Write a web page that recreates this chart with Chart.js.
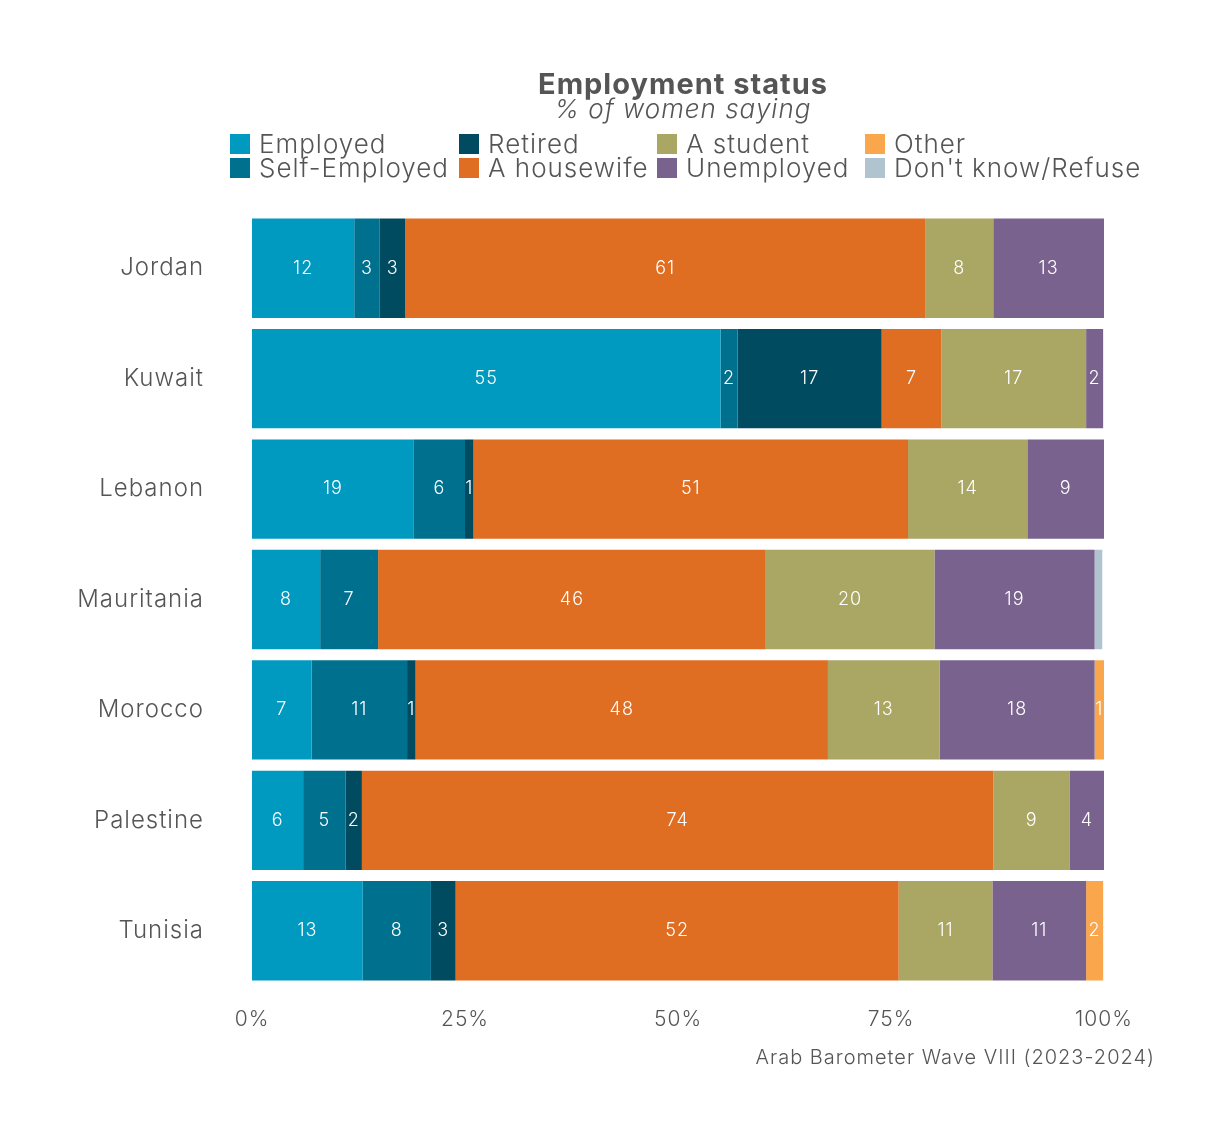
<!DOCTYPE html>
<html>
<head>
<meta charset="utf-8">
<script src="https://cdn.jsdelivr.net/npm/chart.js@4"></script>
<style>
  html, body { margin: 0; padding: 0; background: #fff; }
  #wrap { width: 1230px; height: 1135px; }
</style>
</head>
<body>
<div id="wrap"><canvas id="empChart" width="1230" height="1135"></canvas></div>
<script>
/* global Chart */
const FONT = 'Inter, "DejaVu Sans", sans-serif';
const GREY = '#555555';

const countries = ['Jordan', 'Kuwait', 'Lebanon', 'Mauritania', 'Morocco', 'Palestine', 'Tunisia'];

const employed = [12, 55, 19, 8, 7, 6, 13];
const selfEmployed = [3, 2, 6, 6.8, 11.2, 5, 8];
const retired = [3, 16.9, 1, 0, 1, 1.9, 2.9];
const housewife = [61, 7, 51, 45.5, 48.4, 74.1, 52];
const student = [8, 17, 14, 19.8, 13.1, 9, 11];
const unemployed = [13, 2, 9, 18.8, 18.2, 4, 11];
const other = [0, 0, 0, 0, 1.1, 0, 2];
const dontKnow = [0, 0, 0, 0.9, 0, 0, 0];

const xTicks = [0, 25, 50, 75, 100];
const caption = 'Arab Barometer Wave VIII (2023-2024)';

const series = [
  { label: 'Employed', data: employed, color: '#009AC1' },
  { label: 'Self-Employed', data: selfEmployed, color: '#00708F' },
  { label: 'Retired', data: retired, color: '#004B5F' },
  { label: 'A housewife', data: housewife, color: '#E06E22' },
  { label: 'A student', data: student, color: '#AAA663' },
  { label: 'Unemployed', data: unemployed, color: '#7A628E' },
  { label: 'Other', data: other, color: '#FAA64C' },
  { label: "Don't know/Refuse", data: dontKnow, color: '#B0C4D0' },
];

// titre, légende en colonnes, valeurs et source
const decorations = {
  id: 'decorations',
  beforeDraw(chart) {
    // police plus large que celle dispo : on écarte un peu les lettres
    chart.ctx.letterSpacing = '1px';
  },
  afterDatasetsDraw(chart) {
    const { ctx } = chart;
    ctx.save();
    ctx.fillStyle = '#ffffff';
    ctx.textAlign = 'center';
    ctx.textBaseline = 'middle';
    ctx.font = `300 18px ${FONT}`;
    chart.data.datasets.forEach((ds, i) => {
      const meta = chart.getDatasetMeta(i);
      meta.data.forEach((bar, j) => {
        const v = ds.data[j];
        if (v >= 1) {
          const left = Math.min(bar.x, bar.base);
          const right = Math.max(bar.x, bar.base);
          ctx.fillText(String(Math.round(v)), (left + right) / 2, bar.y);
        }
      });
    });
    ctx.restore();
  },
  afterDraw(chart) {
    const { ctx } = chart;
    ctx.save();
    ctx.letterSpacing = '1px';
    ctx.fillStyle = GREY;
    ctx.textAlign = 'center';
    ctx.textBaseline = 'middle';
    ctx.font = `bold 29px ${FONT}`;
    ctx.fillText('Employment status', 683, 85);
    ctx.font = `italic 300 26px ${FONT}`;
    ctx.fillText('% of women saying', 683, 110);

    const colX = [230, 459, 657, 865];
    const rowY = [144, 168];
    ctx.textAlign = 'left';
    ctx.font = `300 26px ${FONT}`;
    series.forEach((s, i) => {
      const x = colX[Math.floor(i / 2)];
      const y = rowY[i % 2];
      ctx.fillStyle = s.color;
      ctx.fillRect(x, y - 10, 20, 20);
      ctx.fillStyle = GREY;
      ctx.fillText(s.label, x + 29, y + 1);
    });

    ctx.textAlign = 'right';
    ctx.font = `300 20px ${FONT}`;
    ctx.fillText(caption, 1155, 1058);
    ctx.restore();
  },
};

const ctx = document.getElementById('empChart');
const empChart = new Chart(ctx, {
  type: 'bar',
  data: {
    labels: countries,
    datasets: series.map((s) => ({
      label: s.label,
      data: s.data,
      backgroundColor: s.color,
      borderWidth: 0,
      barPercentage: 1,
      categoryPercentage: 0.9,
    })),
  },
  options: {
    indexAxis: 'y',
    responsive: false,
    animation: false,
    layout: {
      padding: { top: 213, right: 126, bottom: 89, left: 0 },
    },
    plugins: {
      legend: { display: false },
      title: { display: false },
      tooltip: { enabled: false },
    },
    scales: {
      x: {
        stacked: true,
        min: 0,
        max: 100,
        afterBuildTicks(axis) {
          axis.ticks = xTicks.map((v) => ({ value: v }));
        },
        afterFit(axis) {
          axis.height = 60;
        },
        grid: { display: false },
        border: { display: false },
        ticks: {
          color: GREY,
          padding: 13,
          font: { family: FONT, size: 21, weight: 300 },
          callback: (v) => `${v}%`,
        },
      },
      y: {
        stacked: true,
        afterFit(axis) {
          axis.width = 252;
        },
        grid: { display: false },
        border: { display: false },
        ticks: {
          color: GREY,
          padding: 40,
          font: { family: FONT, size: 24, weight: 300 },
        },
      },
    },
  },
  plugins: [decorations],
});
</script>
</body>
</html>
